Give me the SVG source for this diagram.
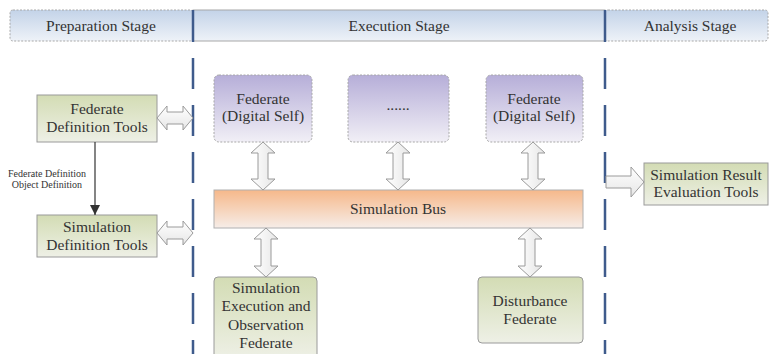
<svg xmlns="http://www.w3.org/2000/svg" width="770" height="354" viewBox="0 0 770 354">
<defs>
<linearGradient id="gHead" x1="0" y1="0" x2="0" y2="1"><stop offset="0" stop-color="#c3d3e8"/><stop offset="1" stop-color="#eef2f8"/></linearGradient>
<linearGradient id="gGreen" x1="0" y1="0" x2="0" y2="1"><stop offset="0" stop-color="#d3dcb4"/><stop offset="1" stop-color="#eef0e6"/></linearGradient>
<linearGradient id="gPurple" x1="0" y1="0" x2="0" y2="1"><stop offset="0" stop-color="#b6aed8"/><stop offset="1" stop-color="#f1eff6"/></linearGradient>
<linearGradient id="gBus" x1="0" y1="0" x2="0" y2="1"><stop offset="0" stop-color="#f6b88a"/><stop offset="1" stop-color="#f6ede8"/></linearGradient>
<linearGradient id="gArrowH" x1="0" y1="0" x2="0" y2="1"><stop offset="0" stop-color="#ffffff"/><stop offset="1" stop-color="#e6e6e6"/></linearGradient>
<linearGradient id="gArrowV" x1="0" y1="0" x2="1" y2="0"><stop offset="0" stop-color="#ffffff"/><stop offset="1" stop-color="#e6e6e6"/></linearGradient>
<marker id="mArr" viewBox="0 0 10 10" refX="10" refY="5" markerWidth="10" markerHeight="10" markerUnits="userSpaceOnUse" orient="auto"><path d="M0,0 L10,5 L0,10 Z" fill="#333"/></marker>
</defs>
<style>
text{font-family:"Liberation Serif","Times New Roman",Tinos,"Noto Serif","DejaVu Serif",serif;fill:#333;text-anchor:middle}
.t{font-size:15.5px}
.h{font-size:15.5px}
.s{font-size:10px}
.head{fill:url(#gHead);stroke:#a8a8a8;stroke-width:1}
.dot{stroke-dasharray:2 1.5}
.green{fill:url(#gGreen);stroke:#9a9a9a;stroke-width:1}
.purple{fill:url(#gPurple);stroke:#a8a8a8;stroke-width:1;stroke-dasharray:2 1.5}
.bus{fill:url(#gBus);stroke:#b0b0b0;stroke-width:1}
.ah{fill:url(#gArrowH);stroke:#9a9a9a;stroke-width:1}
.av{fill:url(#gArrowV);stroke:#9a9a9a;stroke-width:1}
.sep{stroke:#3f5b8c;stroke-width:2.5}
.dash{stroke:#3f5b8c;stroke-width:2.5;stroke-dasharray:31 16}
</style>

<g id="header">
<rect class="head dot" x="10" y="10" width="183" height="31" rx="3"/>
<rect class="head" x="193" y="10" width="412" height="31"/>
<rect class="head dot" x="605" y="10" width="163" height="31" rx="3"/>
<line class="sep" x1="193" y1="10" x2="193" y2="42"/>
<line class="sep" x1="605" y1="10" x2="605" y2="42"/>
<text class="h" x="101" y="31">Preparation Stage</text>
<text class="h" x="399" y="31">Execution Stage</text>
<text class="h" x="690" y="31">Analysis Stage</text>
</g>

<g id="stage-dividers">
<line class="dash" x1="193" y1="58" x2="193" y2="354"/>
<line class="dash" x1="605" y1="58" x2="605" y2="354"/>
</g>

<g id="fed-def-tools">
<rect class="green" x="37" y="95" width="120" height="47"/>
<text class="t" x="97" y="114">Federate</text>
<text class="t" x="97" y="132">Definition Tools</text>
</g>

<g id="sim-def-tools">
<rect class="green" x="37" y="215" width="120" height="42"/>
<text class="t" x="97" y="232">Simulation</text>
<text class="t" x="97" y="250">Definition Tools</text>
</g>

<g id="federate-1">
<rect class="purple" x="214" y="75" width="98" height="67" rx="5"/>
<text class="t" x="263" y="104">Federate</text>
<text class="t" x="263" y="121">(Digital Self)</text>
</g>

<g id="federate-dots">
<rect class="purple" x="348" y="75" width="101" height="67" rx="5"/>
<text class="t" x="398" y="110">......</text>
</g>

<g id="federate-2">
<rect class="purple" x="486" y="75" width="97" height="67" rx="5"/>
<text class="t" x="534" y="104">Federate</text>
<text class="t" x="534" y="121">(Digital Self)</text>
</g>

<g id="sim-bus">
<rect class="bus" x="214" y="190" width="369" height="38"/>
<text class="t" x="398" y="214">Simulation Bus</text>
</g>

<g id="sim-exec-obs">
<rect class="green" x="214" y="277" width="103" height="82" rx="4"/>
<text class="t" x="266" y="293">Simulation</text>
<text class="t" x="266" y="311">Execution and</text>
<text class="t" x="266" y="330">Observation</text>
<text class="t" x="266" y="348">Federate</text>
</g>

<g id="disturbance">
<rect class="green" x="478" y="277" width="105" height="66" rx="4"/>
<text class="t" x="530" y="306">Disturbance</text>
<text class="t" x="530" y="324">Federate</text>
</g>

<g id="result-eval">
<rect class="green" x="644" y="163" width="124" height="42"/>
<text class="t" x="706" y="180">Simulation Result</text>
<text class="t" x="706" y="197">Evaluation Tools</text>
</g>

<g id="connectors">
<line x1="95" y1="142" x2="95" y2="215" stroke="#333" stroke-width="1.2" marker-end="url(#mArr)"/>
<text class="s" x="47" y="177">Federate Definition</text>
<text class="s" x="47" y="188">Object Definition</text>
<path class="ah" d="M157,118 L167,106 L167,112 L183,112 L183,106 L193,118 L183,130 L183,124 L167,124 L167,130 Z"/>
<path class="ah" d="M157,233 L167,221 L167,227 L183,227 L183,221 L193,233 L183,245 L183,239 L167,239 L167,245 Z"/>
<path class="ah" d="M606,176 L631,176 L631,167 L644,182 L631,197 L631,188 L606,188 Z"/>
<path class="av" d="M263,142 L275,153 L268,153 L268,179 L275,179 L263,190 L251,179 L258,179 L258,153 L251,153 Z"/>
<path class="av" d="M398,142 L410,153 L403,153 L403,179 L410,179 L398,190 L386,179 L393,179 L393,153 L386,153 Z"/>
<path class="av" d="M533,142 L545,153 L538,153 L538,179 L545,179 L533,190 L521,179 L528,179 L528,153 L521,153 Z"/>
<path class="av" d="M266,228 L278,239 L271,239 L271,266 L278,266 L266,277 L254,266 L261,266 L261,239 L254,239 Z"/>
<path class="av" d="M530,228 L542,239 L535,239 L535,266 L542,266 L530,277 L518,266 L525,266 L525,239 L518,239 Z"/>
</g>
</svg>
